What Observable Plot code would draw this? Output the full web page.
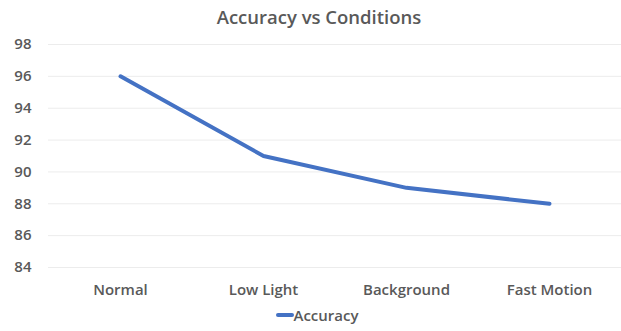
<!DOCTYPE html>
<html>
<head>
<meta charset="utf-8">
<script src="https://cdn.jsdelivr.net/npm/d3@7"></script>
<script src="https://cdn.jsdelivr.net/npm/@observablehq/plot@0.6"></script>
<style>
  html, body { margin: 0; padding: 0; background: #fff; }
  #chart { width: 621px; font-family: "Open Sans", "Liberation Sans", sans-serif; color: #595959; }
  .title { height: 30px; line-height: 33px; text-align: center; font-size: 18.5px; font-weight: 600; color: #595959; padding-left: 17px; box-sizing: border-box; }
  .legend { height: 26px; display: flex; justify-content: center; align-items: center; font-size: 15px; font-weight: 600; color: #595959; padding-left: 13px; box-sizing: border-box; margin-top: -3px; }
  .legend .swatch { width: 18px; height: 4px; background: #4472C4; border-radius: 2px; margin-right: 0px; }
</style>
</head>
<body>
<div id="chart"></div>
<script>
// Accuracy across test conditions
const conditions = ["Normal", "Low Light", "Background", "Fast Motion"];
const accuracy = [96, 91, 89, 88];
const yTicks = [84, 86, 88, 90, 92, 94, 96, 98];
const seriesName = "Accuracy";
const lineColor = "#4472C4";

const data = conditions.map((c, i) => ({condition: c, accuracy: accuracy[i]}));

const root = document.getElementById("chart");

const title = document.createElement("div");
title.className = "title";
title.textContent = "Accuracy vs Conditions";
root.appendChild(title);

const plot = Plot.plot({
  width: 621,
  height: 275,
  marginTop: 14,
  marginBottom: 38,
  marginLeft: 48,
  marginRight: 0,
  style: {fontFamily: "'Open Sans', 'Liberation Sans', sans-serif", fontSize: "15px", color: "#595959", background: "#fff"},
  x: {type: "point", domain: conditions, padding: 0.5, label: null},
  y: {domain: [84, 98], label: null},
  marks: [
    Plot.ruleY(yTicks, {stroke: "#ececec", strokeWidth: 1}),
    Plot.axisY({ticks: yTicks, tickSize: 0, tickPadding: 17, label: null, fill: "#595959", fontSize: 15, fontWeight: 600}),
    Plot.axisX({tickSize: 0, tickPadding: 17, label: null, fill: "#595959", fontSize: 15, fontWeight: 600}),
    Plot.line(data, {x: "condition", y: "accuracy", stroke: lineColor, strokeWidth: 4, strokeLinecap: "round", strokeLinejoin: "round"})
  ]
});
root.appendChild(plot);

const legend = document.createElement("div");
legend.className = "legend";
const sw = document.createElement("span");
sw.className = "swatch";
const lab = document.createElement("span");
lab.textContent = seriesName;
legend.appendChild(sw);
legend.appendChild(lab);
root.appendChild(legend);
</script>
</body>
</html>
